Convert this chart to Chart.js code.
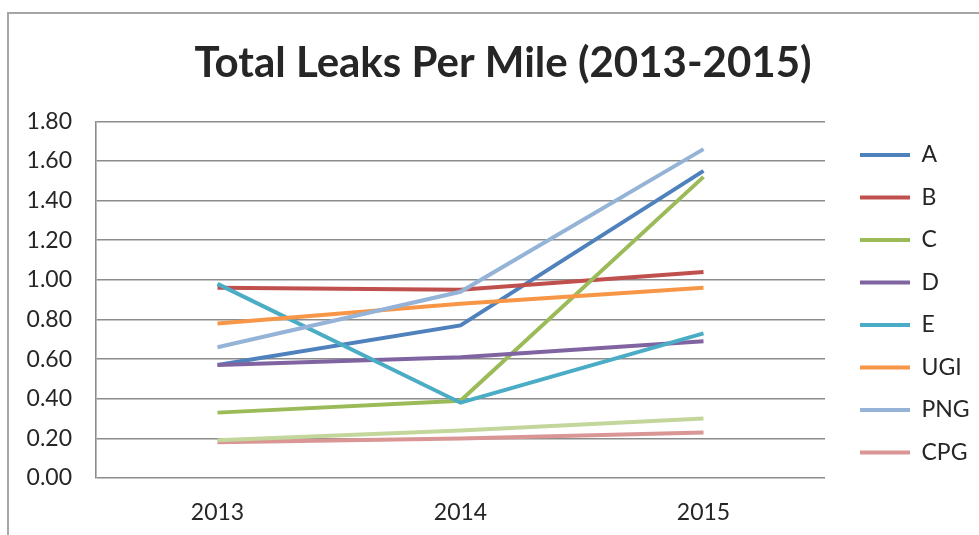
<!DOCTYPE html>
<html>
<head>
<meta charset="utf-8">
<script src="https://cdn.jsdelivr.net/npm/chart.js"></script>
<style>
  body { margin:0; background:#fff; }
  #wrap { position:relative; width:979px; height:535px; overflow:hidden; }
  #frame { position:absolute; left:7px; top:12px; width:990px; height:540px; border-top:2px solid #a6a6a6; border-left:2px solid #a6a6a6; }
  canvas { position:absolute; left:0; top:0; }
</style>
</head>
<body>
<div id="wrap">
  <div id="frame"></div>
  <canvas id="chart" width="979" height="535"></canvas>
</div>
<script>
// Dados
var years = ['2013', '2014', '2015'];
var names = ['A', 'B', 'C', 'D', 'E', 'UGI', 'PNG', 'CPG', 'Other'];
var colors = ['#4F81BD', '#C0504D', '#9BBB59', '#8064A2', '#4BACC6', '#F79646', '#95B3D7', '#D99694', '#C3D69B'];
var valA   = [0.57, 0.77, 1.55];
var valB   = [0.96, 0.95, 1.04];
var valC   = [0.33, 0.39, 1.52];
var valD   = [0.57, 0.61, 0.69];
var valE   = [0.98, 0.38, 0.73];
var valUGI = [0.78, 0.88, 0.96];
var valPNG = [0.66, 0.94, 1.66];
var valCPG = [0.18, 0.20, 0.23];
var valOther = [0.19, 0.24, 0.30];
var series = [valA, valB, valC, valD, valE, valUGI, valPNG, valCPG, valOther];
var yTicks = [0, 0.2, 0.4, 0.6, 0.8, 1.0, 1.2, 1.4, 1.6, 1.8];

var datasets = [];
for (var i = 0; i < series.length; i++) {
  datasets.push({
    label: names[i],
    data: series[i],
    borderColor: colors[i],
    backgroundColor: colors[i],
    borderWidth: 4,
    pointRadius: 0,
    tension: 0,
    order: series.length - i   // series mais novas por cima, como no Excel
  });
}

var txt = '#262626';
var grid = '#8c8c8c';
var tickFont = { family: 'Lato', size: 23 };

new Chart(document.getElementById('chart'), {
  type: 'line',
  data: { labels: years, datasets: datasets },
  options: {
    responsive: false,
    animation: false,
    layout: { padding: { left: 27, right: 0, top: 0, bottom: 0 } },
    plugins: {
      title: {
        display: true,
        text: 'Total Leaks Per Mile (2013-2015)',
        color: txt,
        font: { family: 'Lato', size: 42, weight: 'bold' },
        padding: { top: 38, bottom: 33 }
      },
      legend: {
        position: 'right',
        maxWidth: 138.5,
        // titulo vazio so para empurrar os itens para baixo
        title: { display: true, text: '', font: { size: 1 }, padding: { top: 71.3, bottom: 0 } },
        labels: {
          color: txt,
          font: tickFont,
          usePointStyle: true,
          pointStyle: 'line',
          pointStyleWidth: 50,
          padding: 19.5,
          sort: function(a, b) { return a.datasetIndex - b.datasetIndex; },
          filter: function(item) { return item.text !== 'Other'; }
        }
      },
      tooltip: { enabled: false }
    },
    scales: {
      x: {
        offset: true,
        grid: { display: false },
        border: { display: false },
        ticks: { color: txt, font: tickFont, padding: 13 },
        afterFit: function(s) { s.height = 57; }
      },
      y: {
        min: 0,
        max: 1.8,
        afterBuildTicks: function(axis) { axis.ticks = yTicks.map(function(v) { return { value: v }; }); },
        grid: { color: grid, lineWidth: 1.6, drawTicks: false },
        border: { color: grid, width: 1.6 },
        ticks: {
          color: txt,
          font: tickFont,
          padding: 24,
          callback: function(v) { return Number(v).toFixed(2); }
        },
        afterFit: function(s) { s.width = 69; }
      },
      gap: {
        position: 'right',
        grid: { display: false },
        border: { display: false },
        ticks: { display: false },
        afterFit: function(s) { s.width = 15.5; }
      }
    }
  }
});
</script>
</body>
</html>
